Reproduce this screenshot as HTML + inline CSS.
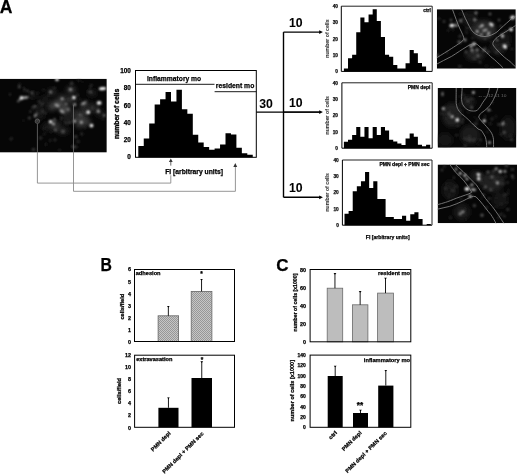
<!DOCTYPE html><html><head><meta charset="utf-8"><style>html,body{margin:0;padding:0;background:#fff;}svg{display:block;}text{font-family:'Liberation Sans', Arial, sans-serif;stroke:#000;stroke-width:0.25px;}</style></head><body>
<svg width="520" height="476" viewBox="0 0 520 476">
<defs>
<filter id="blur2" x="-50%" y="-50%" width="200%" height="200%"><feGaussianBlur stdDeviation="2"/></filter>
<filter id="blur3" x="-50%" y="-50%" width="200%" height="200%"><feGaussianBlur stdDeviation="3"/></filter>
<filter id="blur6" x="-50%" y="-50%" width="200%" height="200%"><feGaussianBlur stdDeviation="6"/></filter>
<filter id="blur1" x="-50%" y="-50%" width="200%" height="200%"><feGaussianBlur stdDeviation="0.95"/></filter>
<filter id="blurT" x="-50%" y="-50%" width="200%" height="200%"><feGaussianBlur stdDeviation="1.1"/></filter>
<pattern id="hatch" width="2" height="2" patternUnits="userSpaceOnUse"><rect width="2" height="2" fill="#c6c6c6"/><rect width="1" height="1" fill="#979797"/><rect x="1" y="1" width="1" height="1" fill="#979797"/></pattern>
<marker id="ah" markerWidth="6" markerHeight="6" refX="5" refY="3" orient="auto" markerUnits="userSpaceOnUse"><path d="M0,0.6 L5.5,3 L0,5.4 Z" fill="#000"/></marker>
<marker id="ahg" markerWidth="5" markerHeight="5" refX="2.5" refY="0.3" orient="0" markerUnits="userSpaceOnUse"><path d="M0,4 L2.5,0 L5,4 Z" fill="#555"/></marker>
</defs>
<text x="-0.30" y="12.60" font-size="17.6" font-weight="bold">A</text>
<clipPath id="c1"><rect x="0" y="78.7" width="106.8" height="73.9"/></clipPath>
<g clip-path="url(#c1)">
<rect x="0.00" y="78.70" width="106.80" height="73.90" fill="#060606"/>
<g filter="url(#blur2)">
<ellipse cx="84" cy="112" rx="4" ry="6" fill="#303030" opacity="0.9"/>
<ellipse cx="80" cy="124" rx="5" ry="4" fill="#383838" opacity="0.9"/>
<ellipse cx="58" cy="104" rx="7" ry="4" fill="#4a4a4a" opacity="0.9"/>
<ellipse cx="65" cy="109" rx="6" ry="3.5" fill="#505050" opacity="0.9"/>
<ellipse cx="52" cy="107" rx="4" ry="4" fill="#3c3c3c" opacity="0.9"/>
<ellipse cx="70" cy="100" rx="5" ry="4" fill="#383838" opacity="0.8"/>
<ellipse cx="80" cy="118" rx="6" ry="4" fill="#404040" opacity="0.9"/>
<ellipse cx="86" cy="122" rx="5" ry="4" fill="#3a3a3a" opacity="0.9"/>
<ellipse cx="76" cy="113" rx="4" ry="4" fill="#303030" opacity="0.8"/>
<ellipse cx="71" cy="90" rx="5" ry="4" fill="#3a3a3a" opacity="0.8"/>
<ellipse cx="62" cy="98" rx="5" ry="4" fill="#303030" opacity="0.8"/>
<ellipse cx="55" cy="126" rx="6" ry="5" fill="#2c2c2c" opacity="0.9"/>
<ellipse cx="63" cy="131" rx="6" ry="4" fill="#262626" opacity="0.9"/>
<ellipse cx="47" cy="127" rx="5" ry="4" fill="#222" opacity="0.8"/>
<ellipse cx="93" cy="108" rx="5" ry="5" fill="#2a2a2a" opacity="0.8"/>
<ellipse cx="100" cy="113" rx="4" ry="4" fill="#222" opacity="0.8"/>
<ellipse cx="84" cy="104" rx="5" ry="3" fill="#333" opacity="0.8"/>
<ellipse cx="52" cy="92" rx="4" ry="4" fill="#2c2c2c" opacity="0.8"/>
<ellipse cx="40" cy="112" rx="6" ry="8" fill="#161616" opacity="0.8"/>
<ellipse cx="33" cy="95" rx="4" ry="4" fill="#1c1c1c" opacity="0.8"/>
<ellipse cx="92" cy="93" rx="5" ry="4" fill="#1e1e1e" opacity="0.8"/>
<ellipse cx="67" cy="118" rx="6" ry="5" fill="#222" opacity="0.8"/>
<ellipse cx="45" cy="100" rx="5" ry="5" fill="#1a1a1a" opacity="0.8"/>
</g>
<g filter="url(#blurT)">
<circle cx="45.6" cy="113.1" r="1.4" fill="#2b2b2b"/>
<circle cx="76.3" cy="100.7" r="1.0" fill="#2d2d2d"/>
<circle cx="50.2" cy="140.5" r="1.2" fill="#2b2b2b"/>
<circle cx="24.8" cy="89.9" r="1.3" fill="#393939"/>
<circle cx="71.7" cy="83.4" r="1.8" fill="#343434"/>
<circle cx="69.2" cy="99.5" r="1.5" fill="#2f2f2f"/>
<circle cx="76.3" cy="146.8" r="1.5" fill="#282828"/>
<circle cx="84.6" cy="115.5" r="1.3" fill="#202020"/>
<circle cx="79.7" cy="99.4" r="1.2" fill="#252525"/>
<circle cx="61.3" cy="118.2" r="1.4" fill="#292929"/>
<circle cx="72.8" cy="147.3" r="1.1" fill="#373737"/>
<circle cx="98.2" cy="108.6" r="1.3" fill="#3a3a3a"/>
<circle cx="63.1" cy="99.9" r="1.8" fill="#363636"/>
<circle cx="86.7" cy="117.1" r="0.9" fill="#2b2b2b"/>
<circle cx="43.8" cy="89.8" r="1.2" fill="#252525"/>
<circle cx="80.9" cy="112.5" r="1.2" fill="#1d1d1d"/>
<circle cx="48.3" cy="95.4" r="1.0" fill="#2c2c2c"/>
<circle cx="79.4" cy="115.6" r="1.7" fill="#1d1d1d"/>
<circle cx="31.1" cy="98.2" r="0.8" fill="#323232"/>
<circle cx="33.5" cy="149.5" r="1.7" fill="#383838"/>
<circle cx="30.4" cy="111.6" r="1.4" fill="#313131"/>
<circle cx="37.1" cy="112.0" r="1.0" fill="#323232"/>
<circle cx="43.8" cy="128.5" r="1.6" fill="#1c1c1c"/>
<circle cx="33.6" cy="106.5" r="1.4" fill="#2e2e2e"/>
<circle cx="86.3" cy="101.5" r="1.2" fill="#393939"/>
<circle cx="78.8" cy="80.3" r="1.8" fill="#1d1d1d"/>
<circle cx="54.9" cy="139.9" r="1.4" fill="#2e2e2e"/>
<circle cx="79.1" cy="125.1" r="1.1" fill="#2f2f2f"/>
<circle cx="11.2" cy="138.8" r="1.5" fill="#2e2e2e"/>
<circle cx="39.5" cy="113.9" r="1.1" fill="#232323"/>
<circle cx="88.8" cy="91.5" r="1.7" fill="#262626"/>
<circle cx="67.4" cy="123.9" r="0.9" fill="#212121"/>
<circle cx="23.3" cy="120.7" r="1.0" fill="#242424"/>
<circle cx="42.2" cy="103.9" r="1.6" fill="#363636"/>
<circle cx="45.9" cy="144.3" r="1.6" fill="#1e1e1e"/>
<circle cx="73.5" cy="122.6" r="1.1" fill="#373737"/>
<circle cx="72.1" cy="146.3" r="1.7" fill="#1d1d1d"/>
<circle cx="42.5" cy="111.2" r="1.8" fill="#2f2f2f"/>
<circle cx="92.3" cy="108.0" r="1.6" fill="#363636"/>
<circle cx="102.9" cy="118.9" r="1.0" fill="#383838"/>
<circle cx="40.5" cy="104.5" r="0.8" fill="#232323"/>
<circle cx="74.1" cy="147.0" r="1.7" fill="#383838"/>
<circle cx="84.8" cy="109.6" r="1.3" fill="#212121"/>
<circle cx="52.8" cy="106.1" r="1.7" fill="#3a3a3a"/>
<circle cx="81.8" cy="133.9" r="1.6" fill="#2b2b2b"/>
<circle cx="85.2" cy="127.4" r="0.9" fill="#363636"/>
<circle cx="69.4" cy="122.3" r="1.7" fill="#363636"/>
<circle cx="39.0" cy="103.8" r="1.0" fill="#242424"/>
<circle cx="33.0" cy="107.6" r="1.6" fill="#343434"/>
<circle cx="82.8" cy="82.1" r="0.9" fill="#1d1d1d"/>
<circle cx="91.3" cy="85.1" r="1.3" fill="#2c2c2c"/>
<circle cx="54.7" cy="121.9" r="1.1" fill="#2e2e2e"/>
<circle cx="50.8" cy="132.0" r="1.5" fill="#1c1c1c"/>
<circle cx="61.8" cy="106.6" r="1.4" fill="#2a2a2a"/>
<circle cx="40.6" cy="137.9" r="1.7" fill="#2f2f2f"/>
<circle cx="77.5" cy="95.3" r="1.8" fill="#292929"/>
<circle cx="65.5" cy="122.9" r="1.4" fill="#323232"/>
<circle cx="24.0" cy="88.3" r="1.7" fill="#1c1c1c"/>
<circle cx="39.0" cy="101.2" r="1.5" fill="#2a2a2a"/>
<circle cx="78.1" cy="141.5" r="1.6" fill="#2c2c2c"/>
<circle cx="85.9" cy="104.0" r="1.4" fill="#353535"/>
<circle cx="82.7" cy="125.9" r="0.9" fill="#2c2c2c"/>
<circle cx="75.8" cy="136.8" r="1.7" fill="#363636"/>
<circle cx="54.5" cy="87.8" r="1.1" fill="#3a3a3a"/>
<circle cx="85.0" cy="112.6" r="1.3" fill="#2c2c2c"/>
<circle cx="37.9" cy="93.3" r="1.4" fill="#1d1d1d"/>
<circle cx="19.3" cy="84.4" r="1.4" fill="#212121"/>
<circle cx="90.2" cy="87.0" r="1.4" fill="#272727"/>
<circle cx="59.4" cy="150.1" r="1.3" fill="#282828"/>
<circle cx="44.1" cy="133.9" r="1.2" fill="#212121"/>
</g><g filter="url(#blur1)">
<circle cx="57" cy="79.6" r="1.75" fill="#ddd"/>
<circle cx="21.5" cy="97.9" r="1.85" fill="#f4f4f4"/>
<ellipse cx="25.5" cy="97.6" rx="3.20" ry="1.25" fill="#aaa" transform="rotate(-5 25.5 97.6)"/>
<ellipse cx="18.8" cy="100.6" rx="2.20" ry="1.05" fill="#666" transform="rotate(-40 18.8 100.6)"/>
<circle cx="19.3" cy="86.9" r="1.35" fill="#555"/>
<circle cx="32" cy="92.8" r="1.35" fill="#555"/>
<circle cx="27.8" cy="91.1" r="1.25" fill="#444"/>
<circle cx="50.5" cy="92" r="1.55" fill="#777"/>
<circle cx="10" cy="94.5" r="1.15" fill="#333"/>
<circle cx="35.3" cy="106.3" r="1.35" fill="#555"/>
<ellipse cx="35.6" cy="115.3" rx="2.40" ry="1.25" fill="#888" transform="rotate(-50 35.6 115.3)"/>
<circle cx="29.4" cy="118" r="1.25" fill="#555"/>
<circle cx="37.4" cy="121.1" r="1.25" fill="#999"/>
<circle cx="50.5" cy="121.8" r="1.75" fill="#eee"/>
<circle cx="53.5" cy="124" r="1.45" fill="#aaa"/>
<ellipse cx="102.5" cy="88.6" rx="3.70" ry="1.65" fill="#f4f4f4" transform="rotate(-5 102.5 88.6)"/>
<circle cx="73.9" cy="97.5" r="1.85" fill="#f0f0f0"/>
<circle cx="70.5" cy="89.5" r="1.65" fill="#888"/>
<circle cx="62.1" cy="98.7" r="1.55" fill="#999"/>
<ellipse cx="99.1" cy="102.9" rx="2.40" ry="1.85" fill="#f0f0f0" transform="rotate(0 99.1 102.9)"/>
<ellipse cx="83.6" cy="103.4" rx="2.70" ry="1.35" fill="#999" transform="rotate(-30 83.6 103.4)"/>
<circle cx="74.7" cy="104.6" r="1.55" fill="#999"/>
<circle cx="88.2" cy="112.2" r="1.85" fill="#eee"/>
<circle cx="98.3" cy="111.3" r="1.55" fill="#aaa"/>
<circle cx="104.1" cy="115.5" r="1.35" fill="#777"/>
<circle cx="74.7" cy="121.1" r="1.55" fill="#aaa"/>
<circle cx="81.4" cy="122.3" r="1.55" fill="#aaa"/>
<circle cx="91.5" cy="125.6" r="1.85" fill="#f0f0f0"/>
<ellipse cx="57" cy="105.4" rx="2.60" ry="1.55" fill="#999" transform="rotate(20 57 105.4)"/>
<ellipse cx="62.1" cy="111.3" rx="2.80" ry="1.55" fill="#999" transform="rotate(30 62.1 111.3)"/>
<circle cx="68" cy="109.6" r="1.35" fill="#777"/>
<circle cx="54.5" cy="119.7" r="1.35" fill="#666"/>
<circle cx="55.4" cy="129.8" r="1.65" fill="#555"/>
<circle cx="63" cy="131.5" r="1.65" fill="#555"/>
<circle cx="90.7" cy="92" r="1.35" fill="#555"/>
<circle cx="66" cy="104" r="1.25" fill="#777"/>
<circle cx="80" cy="115" r="1.45" fill="#666"/>
</g>
</g>
<circle cx="37.4" cy="121.2" r="2.2" fill="none" stroke="#777" stroke-width="0.6"/>
<polyline points="37.4,152.6 37.4,183.1 170.8,183.1 170.8,175.3" fill="none" stroke="#8a8a8a" stroke-width="0.9"/>
<line x1="37.4" y1="123.6" x2="37.4" y2="152.6" stroke="#707070" stroke-width="0.8"/>
<polyline points="73.5,152.6 73.5,191.3 235.4,191.3 235.4,165" fill="none" stroke="#8a8a8a" stroke-width="0.9"/>
<line x1="73.5" y1="104.8" x2="73.5" y2="152.6" stroke="#707070" stroke-width="0.8"/>
<path d="M168.9,161.9 L170.8,158.6 L172.7,161.9 Z" fill="#333"/>
<line x1="170.8" y1="161.5" x2="170.8" y2="165.6" stroke="#555" stroke-width="0.9"/>
<path d="M233.3,166.9 L235.3,163 L237.2,166.9 Z" fill="#333"/>
<path d="M138.30,157.30 L138.30,146.00 L143.75,146.00 L143.75,138.50 L149.20,138.50 L149.20,123.60 L154.65,123.60 L154.65,104.50 L160.10,104.50 L160.10,99.30 L165.55,99.30 L165.55,92.10 L171.00,92.10 L171.00,101.50 L176.45,101.50 L176.45,89.70 L181.90,89.70 L181.90,109.20 L187.35,109.20 L187.35,113.70 L192.80,113.70 L192.80,134.80 L198.25,134.80 L198.25,142.50 L203.70,142.50 L203.70,147.00 L209.15,147.00 L209.15,149.80 L214.60,149.80 L214.60,148.60 L220.05,148.60 L220.05,144.60 L225.50,144.60 L225.50,133.20 L230.95,133.20 L230.95,134.50 L236.40,134.50 L236.40,147.70 L241.85,147.70 L241.85,153.20 L247.30,153.20 L247.30,154.80 L252.75,154.80 L252.75,157.30 Z" fill="#000"/>
<rect x="135.5" y="70.5" width="120.80" height="86.80" fill="none" stroke="#000" stroke-width="1"/>
<line x1="135.50" y1="84.30" x2="214.50" y2="84.30" stroke="#000" stroke-width="0.9"/>
<line x1="214.60" y1="91.70" x2="256.30" y2="91.70" stroke="#000" stroke-width="0.9"/>
<text x="147.00" y="80.90" font-size="7.3" font-weight="bold" textLength="54.20" lengthAdjust="spacingAndGlyphs">inflammatory mo</text>
<text x="215.80" y="88.00" font-size="7.3" font-weight="bold" textLength="38.50" lengthAdjust="spacingAndGlyphs">resident mo</text>
<text x="130.90" y="159.40" font-size="6.4" font-weight="bold" text-anchor="end">0</text>
<text x="130.90" y="142.10" font-size="6.4" font-weight="bold" text-anchor="end">20</text>
<text x="130.90" y="124.80" font-size="6.4" font-weight="bold" text-anchor="end">40</text>
<text x="130.90" y="107.50" font-size="6.4" font-weight="bold" text-anchor="end">60</text>
<text x="130.90" y="90.20" font-size="6.4" font-weight="bold" text-anchor="end">80</text>
<text x="130.90" y="72.90" font-size="6.4" font-weight="bold" text-anchor="end">100</text>
<text x="119.00" y="139.10" font-size="6.9" font-weight="bold" textLength="50.40" lengthAdjust="spacingAndGlyphs" style="stroke-width:0.35px" transform="rotate(-90 119.00 139.10)">number of cells</text>
<text x="165.20" y="173.70" font-size="7.0" font-weight="bold" textLength="57.80" lengthAdjust="spacingAndGlyphs">FI [arbitrary units]</text>
<line x1="256.30" y1="112.10" x2="320.00" y2="112.10" stroke="#000" stroke-width="1.4"/>
<line x1="283.50" y1="32.10" x2="283.50" y2="197.30" stroke="#000" stroke-width="1.4"/>
<line x1="283.50" y1="32.10" x2="320.00" y2="32.10" stroke="#000" stroke-width="1.4"/>
<path d="M319.2,30.20 L322.9,32.10 L319.2,34.00 Z" fill="#000"/>
<line x1="283.50" y1="112.10" x2="320.00" y2="112.10" stroke="#000" stroke-width="1.4"/>
<path d="M319.2,110.20 L322.9,112.10 L319.2,114.00 Z" fill="#000"/>
<line x1="283.50" y1="197.30" x2="320.00" y2="197.30" stroke="#000" stroke-width="1.4"/>
<path d="M319.2,195.40 L322.9,197.30 L319.2,199.20 Z" fill="#000"/>
<text x="259.20" y="107.80" font-size="12.0" font-weight="bold" textLength="13.60" lengthAdjust="spacingAndGlyphs" style="stroke-width:0.05px">30</text>
<text x="289.00" y="26.50" font-size="12.4" font-weight="bold" textLength="13.60" lengthAdjust="spacingAndGlyphs" style="stroke-width:0.05px">10</text>
<text x="289.00" y="107.00" font-size="12.2" font-weight="bold" textLength="13.60" lengthAdjust="spacingAndGlyphs" style="stroke-width:0.05px">10</text>
<text x="289.00" y="191.70" font-size="12.2" font-weight="bold" textLength="13.60" lengthAdjust="spacingAndGlyphs" style="stroke-width:0.05px">10</text>
<path d="M343.90,71.40 L343.90,68.50 L348.01,68.50 L348.01,58.20 L352.12,58.20 L352.12,54.80 L356.23,54.80 L356.23,32.30 L360.34,32.30 L360.34,17.50 L364.45,17.50 L364.45,22.20 L368.56,22.20 L368.56,14.40 L372.67,14.40 L372.67,9.30 L376.78,9.30 L376.78,21.00 L380.89,21.00 L380.89,36.90 L385.00,36.90 L385.00,54.80 L389.11,54.80 L389.11,56.70 L393.22,56.70 L393.22,64.90 L397.33,64.90 L397.33,68.50 L401.44,68.50 L401.44,68.50 L405.55,68.50 L405.55,63.30 L409.66,63.30 L409.66,50.10 L413.77,50.10 L413.77,53.20 L417.88,53.20 L417.88,63.00 L421.99,63.00 L421.99,66.40 L426.10,66.40 L426.10,71.40 L430.21,71.40 L430.21,71.40 Z" fill="#000"/>
<path d="M341.3,6.2 L432.2,6.2 L432.2,71.4" fill="none" stroke="#222" stroke-width="1"/>
<path d="M341.3,6.2 L341.3,71.4 L432.2,71.4" fill="none" stroke="#000" stroke-width="1"/>
<text x="338.00" y="73.20" font-size="4.8" font-weight="bold" text-anchor="end" fill="#111" style="stroke:#111">0</text>
<text x="338.00" y="56.90" font-size="4.8" font-weight="bold" text-anchor="end" fill="#111" style="stroke:#111">10</text>
<text x="338.00" y="40.60" font-size="4.8" font-weight="bold" text-anchor="end" fill="#111" style="stroke:#111">20</text>
<text x="338.00" y="24.30" font-size="4.8" font-weight="bold" text-anchor="end" fill="#111" style="stroke:#111">30</text>
<text x="338.00" y="8.00" font-size="4.8" font-weight="bold" text-anchor="end" fill="#111" style="stroke:#111">40</text>
<text x="329.30" y="57.80" font-size="4.9" font-weight="bold" textLength="38.50" lengthAdjust="spacingAndGlyphs" fill="#333" style="stroke:#333;stroke-width:0.05px" transform="rotate(-90 329.30 57.80)">number of cells</text>
<text x="430.80" y="12.20" font-size="5.1" font-weight="bold" text-anchor="end" textLength="7.60" lengthAdjust="spacingAndGlyphs">ctrl</text>
<path d="M343.90,148.20 L343.90,141.70 L348.01,141.70 L348.01,139.80 L352.12,139.80 L352.12,135.10 L356.23,135.10 L356.23,126.90 L360.34,126.90 L360.34,136.70 L364.45,136.70 L364.45,126.90 L368.56,126.90 L368.56,138.20 L372.67,138.20 L372.67,126.90 L376.78,126.90 L376.78,135.10 L380.89,135.10 L380.89,126.90 L385.00,126.90 L385.00,130.50 L389.11,130.50 L389.11,139.80 L393.22,139.80 L393.22,141.40 L397.33,141.40 L397.33,143.50 L401.44,143.50 L401.44,145.10 L405.55,145.10 L405.55,138.60 L409.66,138.60 L409.66,133.40 L413.77,133.40 L413.77,136.70 L417.88,136.70 L417.88,144.80 L421.99,144.80 L421.99,146.30 L426.10,146.30 L426.10,144.80 L430.21,144.80 L430.21,148.20 Z" fill="#000"/>
<path d="M341.9,82.8 L432.2,82.8 L432.2,148.2" fill="none" stroke="#222" stroke-width="1"/>
<path d="M341.9,82.8 L341.9,148.2 L432.2,148.2" fill="none" stroke="#000" stroke-width="1"/>
<text x="338.00" y="150.00" font-size="4.8" font-weight="bold" text-anchor="end" fill="#111" style="stroke:#111">0</text>
<text x="338.00" y="133.65" font-size="4.8" font-weight="bold" text-anchor="end" fill="#111" style="stroke:#111">10</text>
<text x="338.00" y="117.30" font-size="4.8" font-weight="bold" text-anchor="end" fill="#111" style="stroke:#111">20</text>
<text x="338.00" y="100.95" font-size="4.8" font-weight="bold" text-anchor="end" fill="#111" style="stroke:#111">30</text>
<text x="338.00" y="84.60" font-size="4.8" font-weight="bold" text-anchor="end" fill="#111" style="stroke:#111">40</text>
<text x="329.30" y="134.50" font-size="4.9" font-weight="bold" textLength="38.50" lengthAdjust="spacingAndGlyphs" fill="#333" style="stroke:#333;stroke-width:0.05px" transform="rotate(-90 329.30 134.50)">number of cells</text>
<text x="430.50" y="88.80" font-size="5.0" font-weight="bold" text-anchor="end" textLength="22.80" lengthAdjust="spacingAndGlyphs">PMN depl</text>
<path d="M344.50,225.20 L344.50,213.80 L348.61,213.80 L348.61,211.10 L352.72,211.10 L352.72,191.30 L356.83,191.30 L356.83,186.30 L360.94,186.30 L360.94,181.20 L365.05,181.20 L365.05,171.90 L369.16,171.90 L369.16,187.90 L373.27,187.90 L373.27,181.20 L377.38,181.20 L377.38,199.00 L381.49,199.00 L381.49,199.00 L385.60,199.00 L385.60,216.90 L389.71,216.90 L389.71,216.90 L393.82,216.90 L393.82,218.90 L397.93,218.90 L397.93,218.90 L402.04,218.90 L402.04,215.80 L406.15,215.80 L406.15,220.80 L410.26,220.80 L410.26,214.20 L414.37,214.20 L414.37,212.20 L418.48,212.20 L418.48,218.90 L422.59,218.90 L422.59,225.20 L426.70,225.20 L426.70,223.90 L430.81,223.90 L430.81,225.20 Z" fill="#000"/>
<path d="M342.4,160.0 L432.0,160.0 L432.0,225.2" fill="none" stroke="#222" stroke-width="1"/>
<path d="M342.4,160.0 L342.4,225.2 L432.0,225.2" fill="none" stroke="#000" stroke-width="1"/>
<text x="338.80" y="227.00" font-size="4.8" font-weight="bold" text-anchor="end" fill="#111" style="stroke:#111">0</text>
<text x="338.80" y="210.70" font-size="4.8" font-weight="bold" text-anchor="end" fill="#111" style="stroke:#111">10</text>
<text x="338.80" y="194.40" font-size="4.8" font-weight="bold" text-anchor="end" fill="#111" style="stroke:#111">20</text>
<text x="338.80" y="178.10" font-size="4.8" font-weight="bold" text-anchor="end" fill="#111" style="stroke:#111">30</text>
<text x="338.80" y="161.80" font-size="4.8" font-weight="bold" text-anchor="end" fill="#111" style="stroke:#111">40</text>
<text x="329.30" y="211.60" font-size="4.9" font-weight="bold" textLength="38.50" lengthAdjust="spacingAndGlyphs" fill="#333" style="stroke:#333;stroke-width:0.05px" transform="rotate(-90 329.30 211.60)">number of cells</text>
<text x="429.60" y="166.00" font-size="5.4" font-weight="bold" text-anchor="end" textLength="50.20" lengthAdjust="spacingAndGlyphs">PMN depl + PMN sec</text>
<text x="365.80" y="239.30" font-size="5.4" font-weight="bold" textLength="43.80" lengthAdjust="spacingAndGlyphs">FI [arbitrary units]</text>
<clipPath id="c2"><rect x="436.8" y="9.2" width="79.0" height="59.5"/></clipPath>
<g clip-path="url(#c2)">
<rect x="436.80" y="9.20" width="79.00" height="59.50" fill="#060606"/>
<g filter="url(#blur2)">
<ellipse cx="484" cy="30" rx="12" ry="10" fill="#333" opacity="0.8"/>
<ellipse cx="475" cy="55" rx="10" ry="6" fill="#262626" opacity="0.8"/>
<ellipse cx="498" cy="48" rx="8" ry="7" fill="#1e1e1e" opacity="0.8"/>
<ellipse cx="470" cy="20" rx="8" ry="8" fill="#1c1c1c" opacity="0.7"/>
<ellipse cx="505" cy="40" rx="6" ry="8" fill="#1a1a1a" opacity="0.7"/>
</g>
<g filter="url(#blurT)">
<circle cx="506.0" cy="31.2" r="1.5" fill="#333333"/>
<circle cx="461.0" cy="14.0" r="1.7" fill="#1d1d1d"/>
<circle cx="465.3" cy="14.2" r="1.4" fill="#1f1f1f"/>
<circle cx="474.3" cy="58.4" r="1.6" fill="#373737"/>
<circle cx="496.0" cy="37.6" r="0.9" fill="#202020"/>
<circle cx="437.2" cy="55.2" r="1.8" fill="#3a3a3a"/>
<circle cx="459.7" cy="66.4" r="1.7" fill="#2d2d2d"/>
<circle cx="488.0" cy="52.1" r="1.8" fill="#3a3a3a"/>
<circle cx="484.5" cy="32.2" r="1.1" fill="#202020"/>
<circle cx="476.4" cy="20.0" r="1.1" fill="#1e1e1e"/>
<circle cx="474.8" cy="28.0" r="1.3" fill="#2b2b2b"/>
<circle cx="503.3" cy="44.8" r="1.2" fill="#333333"/>
<circle cx="453.0" cy="27.8" r="1.3" fill="#1c1c1c"/>
<circle cx="486.1" cy="66.0" r="1.6" fill="#1f1f1f"/>
<circle cx="511.2" cy="29.7" r="1.7" fill="#272727"/>
<circle cx="470.3" cy="28.3" r="1.2" fill="#353535"/>
<circle cx="463.3" cy="18.8" r="1.3" fill="#262626"/>
<circle cx="469.5" cy="69.4" r="0.9" fill="#2d2d2d"/>
<circle cx="503.1" cy="47.2" r="1.5" fill="#202020"/>
<circle cx="461.3" cy="22.1" r="1.3" fill="#2f2f2f"/>
<circle cx="477.6" cy="49.6" r="1.3" fill="#242424"/>
<circle cx="500.7" cy="26.3" r="1.3" fill="#353535"/>
<circle cx="447.1" cy="52.7" r="0.9" fill="#3a3a3a"/>
<circle cx="469.5" cy="19.2" r="0.9" fill="#272727"/>
<circle cx="460.1" cy="36.2" r="1.7" fill="#2f2f2f"/>
<circle cx="472.6" cy="38.2" r="1.1" fill="#333333"/>
<circle cx="456.3" cy="22.6" r="1.6" fill="#282828"/>
<circle cx="472.3" cy="50.1" r="1.0" fill="#262626"/>
<circle cx="511.9" cy="49.1" r="1.5" fill="#272727"/>
<circle cx="495.9" cy="52.1" r="1.6" fill="#242424"/>
<circle cx="507.3" cy="43.5" r="1.4" fill="#212121"/>
<circle cx="499.8" cy="49.3" r="1.6" fill="#252525"/>
<circle cx="497.0" cy="52.0" r="1.7" fill="#333333"/>
<circle cx="485.3" cy="48.2" r="1.8" fill="#272727"/>
<circle cx="480.1" cy="62.3" r="1.3" fill="#373737"/>
<circle cx="466.6" cy="32.3" r="1.3" fill="#2e2e2e"/>
<circle cx="460.7" cy="42.1" r="1.4" fill="#373737"/>
<circle cx="439.0" cy="18.7" r="1.4" fill="#2a2a2a"/>
<circle cx="476.6" cy="54.5" r="1.8" fill="#2b2b2b"/>
<circle cx="492.1" cy="67.8" r="1.0" fill="#2b2b2b"/>
<circle cx="453.0" cy="29.5" r="1.4" fill="#1e1e1e"/>
<circle cx="508.1" cy="45.0" r="1.7" fill="#242424"/>
<circle cx="491.2" cy="41.8" r="0.8" fill="#3a3a3a"/>
<circle cx="485.0" cy="38.4" r="1.4" fill="#3a3a3a"/>
<circle cx="501.5" cy="34.1" r="1.4" fill="#363636"/>
<circle cx="466.8" cy="28.4" r="1.3" fill="#2e2e2e"/>
<circle cx="472.9" cy="51.9" r="1.5" fill="#383838"/>
<circle cx="494.4" cy="41.7" r="1.1" fill="#202020"/>
<circle cx="481.4" cy="34.7" r="1.3" fill="#232323"/>
<circle cx="448.3" cy="30.5" r="1.4" fill="#212121"/>
<circle cx="495.8" cy="45.1" r="1.7" fill="#262626"/>
<circle cx="502.8" cy="46.0" r="1.4" fill="#313131"/>
<circle cx="505.1" cy="45.8" r="0.8" fill="#282828"/>
<circle cx="502.3" cy="51.8" r="1.0" fill="#1d1d1d"/>
<circle cx="477.0" cy="50.3" r="1.4" fill="#2b2b2b"/>
</g><g filter="url(#blur1)">
<circle cx="474.7" cy="19.8" r="1.35" fill="#bbb"/>
<circle cx="482.2" cy="25.6" r="1.45" fill="#ccc"/>
<circle cx="490.5" cy="24" r="1.45" fill="#ddd"/>
<circle cx="477.2" cy="31.4" r="1.45" fill="#bbb"/>
<circle cx="483.8" cy="30.6" r="1.35" fill="#aaa"/>
<circle cx="488.8" cy="33.1" r="1.35" fill="#bbb"/>
<circle cx="481.3" cy="34.7" r="1.35" fill="#999"/>
<circle cx="474" cy="44" r="1.65" fill="#e8e8e8"/>
<circle cx="460.6" cy="20.6" r="1.25" fill="#888"/>
<circle cx="505.3" cy="47.2" r="1.65" fill="#eee"/>
<circle cx="472" cy="50" r="1.55" fill="#888"/>
<circle cx="484" cy="50" r="1.55" fill="#777"/>
<ellipse cx="451.8" cy="25.5" rx="2.40" ry="1.75" fill="#f0f0f0" transform="rotate(-10 451.8 25.5)"/>
<ellipse cx="456" cy="25.5" rx="2.20" ry="1.05" fill="#aaa" transform="rotate(0 456 25.5)"/>
<circle cx="451" cy="20" r="1.25" fill="#555"/>
<circle cx="444" cy="21.5" r="1.25" fill="#444"/>
<circle cx="460.5" cy="20.6" r="1.45" fill="#777"/>
<circle cx="465" cy="40" r="1.45" fill="#999"/>
<circle cx="459" cy="42" r="1.45" fill="#666"/>
<circle cx="475" cy="20" r="1.45" fill="#777"/>
<circle cx="492" cy="25" r="1.65" fill="#ddd"/>
<circle cx="486" cy="30" r="1.45" fill="#999"/>
<circle cx="480" cy="27" r="1.35" fill="#888"/>
<circle cx="488" cy="35" r="1.35" fill="#888"/>
<circle cx="476" cy="13" r="1.45" fill="#888"/>
<circle cx="490" cy="14" r="1.35" fill="#666"/>
<ellipse cx="512.5" cy="17.5" rx="2.40" ry="1.75" fill="#eee" transform="rotate(-20 512.5 17.5)"/>
<circle cx="511" cy="29.4" r="1.75" fill="#eee"/>
<circle cx="502.5" cy="36" r="1.65" fill="#ccc"/>
<circle cx="504.6" cy="46" r="1.75" fill="#eee"/>
<circle cx="497" cy="40" r="1.35" fill="#777"/>
<circle cx="477" cy="50" r="1.45" fill="#777"/>
<circle cx="471" cy="46" r="1.55" fill="#bbb"/>
<circle cx="478" cy="56" r="1.45" fill="#666"/>
<circle cx="466" cy="52" r="1.35" fill="#555"/>
<circle cx="499" cy="20" r="1.25" fill="#555"/>
</g>
<path d="M452.3,9 C455,16 457.5,23.7 460,29 C462,33 464,37 464,39.3 C462,42 456,45.5 451.7,48.4 C447,51.5 442,54.5 436,58.2" fill="none" stroke="#858585" stroke-width="0.85"/>
<path d="M461.4,9 C463.5,14 465,18 466.7,21 C468.5,25 470.6,28.9 472.5,31.5 C476,35 480,36.5 485,36.5 C490,36 493,34.5 497,32 C501,28 506,23.7 509,21 C512,18 514,17 517,16.2" fill="none" stroke="#858585" stroke-width="0.85"/>
<path d="M517,24.5 C512,28 506,31.5 502,34.1 C499,36 496,38 495,39.5 C493.5,41 492.3,43 493,45 C495,48 499,52 502,55 C505,58 508,60 510,61.5 C512,63.5 514,65.5 517,68" fill="none" stroke="#858585" stroke-width="0.85"/>
<path d="M436,64.5 C441,62 446,59 451.7,56.3 C457,53 462,49.5 466,47.1 C469,45 472,43.9 475,43.5 C477,44 478,45 479,46 C482,48.5 484,50.5 486.4,52.3 C489,55 492,58 494.3,59.5 C497,62 499,64 500.8,65.4 C502,67 503,68 503.6,69" fill="none" stroke="#858585" stroke-width="0.85"/>
</g>
<clipPath id="c3"><rect x="437.6" y="87.9" width="78.8" height="59.8"/></clipPath>
<g clip-path="url(#c3)">
<rect x="437.60" y="87.90" width="78.80" height="59.80" fill="#060606"/>
<g filter="url(#blur2)">
<ellipse cx="452" cy="115" rx="10" ry="12" fill="#262626" opacity="0.85"/>
<ellipse cx="470" cy="135" rx="10" ry="10" fill="#202020" opacity="0.8"/>
<ellipse cx="468" cy="102" rx="7" ry="7" fill="#222" opacity="0.7"/>
<ellipse cx="445" cy="140" rx="8" ry="7" fill="#1a1a1a" opacity="0.8"/>
<ellipse cx="508" cy="128" rx="8" ry="12" fill="#181818" opacity="0.8"/>
</g>
<g filter="url(#blurT)">
<circle cx="468.0" cy="139.5" r="1.3" fill="#363636"/>
<circle cx="456.7" cy="115.0" r="1.2" fill="#1e1e1e"/>
<circle cx="449.3" cy="117.1" r="0.9" fill="#2e2e2e"/>
<circle cx="444.9" cy="114.3" r="0.8" fill="#232323"/>
<circle cx="460.4" cy="96.5" r="1.4" fill="#1f1f1f"/>
<circle cx="478.3" cy="144.3" r="1.2" fill="#222222"/>
<circle cx="441.8" cy="113.6" r="1.5" fill="#2b2b2b"/>
<circle cx="487.3" cy="131.9" r="1.1" fill="#272727"/>
<circle cx="492.7" cy="102.5" r="1.1" fill="#2e2e2e"/>
<circle cx="504.2" cy="121.5" r="0.9" fill="#1e1e1e"/>
<circle cx="510.4" cy="135.6" r="1.8" fill="#1d1d1d"/>
<circle cx="501.0" cy="134.3" r="1.4" fill="#2b2b2b"/>
<circle cx="460.5" cy="114.9" r="0.9" fill="#313131"/>
<circle cx="462.0" cy="122.5" r="1.6" fill="#313131"/>
<circle cx="471.5" cy="99.0" r="1.3" fill="#3a3a3a"/>
<circle cx="446.4" cy="118.2" r="0.9" fill="#252525"/>
<circle cx="473.1" cy="99.1" r="1.2" fill="#212121"/>
<circle cx="476.7" cy="123.5" r="1.5" fill="#242424"/>
<circle cx="491.4" cy="110.7" r="1.0" fill="#232323"/>
<circle cx="469.3" cy="137.0" r="1.4" fill="#363636"/>
<circle cx="458.0" cy="125.8" r="1.4" fill="#2f2f2f"/>
<circle cx="492.0" cy="118.7" r="1.5" fill="#2f2f2f"/>
<circle cx="473.6" cy="140.0" r="1.7" fill="#3a3a3a"/>
<circle cx="468.5" cy="111.8" r="1.3" fill="#1f1f1f"/>
<circle cx="475.0" cy="140.2" r="0.9" fill="#212121"/>
<circle cx="456.6" cy="118.0" r="1.7" fill="#1f1f1f"/>
<circle cx="459.8" cy="110.2" r="1.4" fill="#202020"/>
<circle cx="485.1" cy="116.3" r="1.6" fill="#1f1f1f"/>
<circle cx="474.3" cy="116.8" r="0.9" fill="#1e1e1e"/>
<circle cx="495.9" cy="116.5" r="1.0" fill="#323232"/>
<circle cx="511.1" cy="136.0" r="1.6" fill="#1c1c1c"/>
<circle cx="449.9" cy="112.1" r="1.7" fill="#272727"/>
<circle cx="456.4" cy="135.2" r="1.4" fill="#262626"/>
<circle cx="475.1" cy="124.1" r="1.6" fill="#333333"/>
<circle cx="467.3" cy="103.0" r="1.6" fill="#1c1c1c"/>
<circle cx="462.9" cy="119.3" r="1.6" fill="#2a2a2a"/>
<circle cx="465.1" cy="146.2" r="1.0" fill="#1e1e1e"/>
<circle cx="465.2" cy="145.8" r="1.4" fill="#383838"/>
<circle cx="506.0" cy="124.8" r="0.9" fill="#313131"/>
<circle cx="465.0" cy="138.7" r="1.4" fill="#353535"/>
<circle cx="460.0" cy="103.9" r="1.5" fill="#1e1e1e"/>
<circle cx="480.5" cy="139.8" r="1.6" fill="#2a2a2a"/>
<circle cx="465.4" cy="98.1" r="1.3" fill="#2d2d2d"/>
<circle cx="433.6" cy="114.9" r="1.8" fill="#292929"/>
<circle cx="475.4" cy="139.0" r="1.0" fill="#2c2c2c"/>
<circle cx="490.4" cy="123.8" r="1.7" fill="#1d1d1d"/>
<circle cx="463.2" cy="94.2" r="1.2" fill="#2c2c2c"/>
<circle cx="477.1" cy="119.7" r="1.3" fill="#2c2c2c"/>
<circle cx="498.8" cy="124.3" r="1.6" fill="#343434"/>
<circle cx="466.1" cy="100.3" r="1.1" fill="#1d1d1d"/>
</g><g filter="url(#blur1)">
<ellipse cx="442.5" cy="94" rx="2.20" ry="1.15" fill="#777" transform="rotate(90 442.5 94)"/>
<circle cx="473.4" cy="92.5" r="1.35" fill="#ddd"/>
<circle cx="443.4" cy="108.6" r="1.65" fill="#aaa"/>
<circle cx="452.2" cy="116.7" r="1.65" fill="#aaa"/>
<circle cx="457.3" cy="119.9" r="1.85" fill="#eee"/>
<circle cx="471.7" cy="107.5" r="1.45" fill="#555"/>
<circle cx="488.8" cy="110" r="1.35" fill="#aaa"/>
<circle cx="484.3" cy="120.7" r="1.55" fill="#eee"/>
<ellipse cx="502.9" cy="123.7" rx="2.20" ry="1.45" fill="#888" transform="rotate(-60 502.9 123.7)"/>
<circle cx="504.3" cy="132.4" r="1.45" fill="#555"/>
<circle cx="489.5" cy="142.5" r="1.55" fill="#999"/>
<circle cx="511.7" cy="139.8" r="1.35" fill="#444"/>
<circle cx="449" cy="114" r="1.45" fill="#555"/>
<circle cx="470" cy="140" r="1.65" fill="#3a3a3a"/>
<circle cx="468" cy="101" r="1.45" fill="#444"/>
</g>
<path d="M456.2,87 C456.2,95 456,100 456.2,103.5 C456.8,106 457,108 458.2,109.6 C459.5,112 461,113.5 462.9,114.9 C465,116.5 466.5,118 468.3,119.6 C470.5,121.5 472,123.5 473.7,125 C475.5,126.5 477,127.5 478,129 C479.5,129.5 480.5,130 481.4,130.4 C483,133 484.5,135 485.4,137.1 C486.3,140 486.6,144 486.8,149" fill="none" stroke="#858585" stroke-width="0.85"/>
<path d="M462.2,87 C462,92 461.5,96 461.6,99.5 C461.8,102 462.2,103.5 462.9,104.8 C464,106.5 465,107.8 466.3,108.9 C468,110 469.5,110.7 471,110.9 C473,111.1 474.5,111.1 476,110.9 C478,110 480,107.5 481.4,104.8 C483.5,101 485.5,99 486.8,96.8 C488,94 489,91 489.5,87" fill="none" stroke="#858585" stroke-width="0.85"/>
<path d="M498.2,87 C496.5,93 495,96 493.5,99.5 C492,102.5 490,105.5 488.1,107.5 C486,109.5 483.5,111.5 481.4,112.9 C480,114 479,115.5 478.7,117 C479.5,119 481,120.5 482.7,122.3 C485,125 488,128 490.8,131.8 C492.5,134.5 493.3,137 493.5,139.8 C493.6,143 493.6,146 493.5,149" fill="none" stroke="#858585" stroke-width="0.85"/>
</g>
<text x="478.5" y="97.4" font-size="3.4" fill="#6a6a6a" textLength="28" lengthAdjust="spacingAndGlyphs" style="stroke:none">-- --     12  11  10</text>
<clipPath id="c4"><rect x="437.6" y="164.4" width="79.4" height="58.8"/></clipPath>
<g clip-path="url(#c4)">
<rect x="437.60" y="164.40" width="79.40" height="58.80" fill="#060606"/>
<g filter="url(#blur2)">
<ellipse cx="492" cy="182" rx="12" ry="10" fill="#282828" opacity="0.8"/>
<ellipse cx="462" cy="212" rx="8" ry="8" fill="#222" opacity="0.8"/>
<ellipse cx="450" cy="190" rx="8" ry="10" fill="#1c1c1c" opacity="0.8"/>
<ellipse cx="500" cy="200" rx="8" ry="8" fill="#1a1a1a" opacity="0.8"/>
<ellipse cx="476" cy="176" rx="6" ry="6" fill="#222" opacity="0.7"/>
</g>
<g filter="url(#blurT)">
<circle cx="449.5" cy="194.5" r="0.8" fill="#313131"/>
<circle cx="481.4" cy="198.2" r="0.8" fill="#323232"/>
<circle cx="507.0" cy="202.8" r="1.0" fill="#212121"/>
<circle cx="493.3" cy="171.2" r="1.7" fill="#333333"/>
<circle cx="453.9" cy="177.6" r="1.2" fill="#353535"/>
<circle cx="456.0" cy="186.3" r="1.6" fill="#262626"/>
<circle cx="494.2" cy="177.9" r="1.6" fill="#282828"/>
<circle cx="450.4" cy="217.9" r="1.8" fill="#1f1f1f"/>
<circle cx="465.2" cy="209.5" r="1.7" fill="#1c1c1c"/>
<circle cx="480.3" cy="179.9" r="1.7" fill="#2d2d2d"/>
<circle cx="504.2" cy="216.1" r="1.4" fill="#323232"/>
<circle cx="502.8" cy="183.8" r="1.7" fill="#2f2f2f"/>
<circle cx="496.1" cy="198.2" r="0.9" fill="#1d1d1d"/>
<circle cx="513.1" cy="178.3" r="1.3" fill="#2f2f2f"/>
<circle cx="504.7" cy="195.1" r="1.6" fill="#2e2e2e"/>
<circle cx="461.1" cy="199.2" r="1.3" fill="#272727"/>
<circle cx="483.1" cy="188.5" r="1.2" fill="#1c1c1c"/>
<circle cx="498.4" cy="217.8" r="1.4" fill="#252525"/>
<circle cx="507.5" cy="182.5" r="1.2" fill="#353535"/>
<circle cx="460.0" cy="211.1" r="1.0" fill="#303030"/>
<circle cx="469.4" cy="186.3" r="1.4" fill="#373737"/>
<circle cx="456.4" cy="201.9" r="0.8" fill="#242424"/>
<circle cx="501.9" cy="179.9" r="1.8" fill="#212121"/>
<circle cx="501.4" cy="183.0" r="1.2" fill="#353535"/>
<circle cx="448.3" cy="197.8" r="0.9" fill="#242424"/>
<circle cx="449.1" cy="187.6" r="0.9" fill="#2a2a2a"/>
<circle cx="489.3" cy="198.4" r="1.5" fill="#313131"/>
<circle cx="507.5" cy="193.5" r="1.7" fill="#1f1f1f"/>
<circle cx="465.9" cy="219.5" r="1.0" fill="#1e1e1e"/>
<circle cx="505.8" cy="176.3" r="1.3" fill="#2b2b2b"/>
<circle cx="507.7" cy="209.4" r="1.7" fill="#2e2e2e"/>
<circle cx="481.6" cy="174.2" r="1.3" fill="#292929"/>
<circle cx="500.4" cy="171.8" r="1.1" fill="#3a3a3a"/>
<circle cx="494.8" cy="170.5" r="1.3" fill="#323232"/>
<circle cx="491.1" cy="178.0" r="1.7" fill="#232323"/>
<circle cx="501.3" cy="203.7" r="0.9" fill="#2f2f2f"/>
<circle cx="497.8" cy="206.5" r="0.8" fill="#222222"/>
<circle cx="444.3" cy="166.2" r="1.3" fill="#2f2f2f"/>
<circle cx="491.0" cy="176.6" r="1.6" fill="#1e1e1e"/>
<circle cx="483.8" cy="194.7" r="1.6" fill="#2b2b2b"/>
<circle cx="446.4" cy="183.2" r="1.0" fill="#202020"/>
<circle cx="495.4" cy="181.2" r="1.8" fill="#303030"/>
<circle cx="481.3" cy="182.2" r="1.7" fill="#272727"/>
<circle cx="491.6" cy="190.9" r="0.8" fill="#222222"/>
<circle cx="502.6" cy="177.3" r="0.9" fill="#292929"/>
<circle cx="446.1" cy="187.0" r="1.5" fill="#1d1d1d"/>
<circle cx="499.6" cy="156.7" r="1.8" fill="#353535"/>
<circle cx="506.4" cy="165.8" r="1.7" fill="#3a3a3a"/>
<circle cx="500.2" cy="214.5" r="1.4" fill="#2b2b2b"/>
<circle cx="508.5" cy="189.7" r="1.1" fill="#1e1e1e"/>
<circle cx="495.8" cy="206.7" r="0.9" fill="#282828"/>
<circle cx="445.6" cy="188.8" r="1.2" fill="#323232"/>
<circle cx="512.5" cy="169.5" r="1.8" fill="#2a2a2a"/>
<circle cx="502.1" cy="213.5" r="0.9" fill="#262626"/>
<circle cx="486.2" cy="207.6" r="1.6" fill="#262626"/>
</g><g filter="url(#blur1)">
<ellipse cx="467" cy="188.9" rx="2.40" ry="1.85" fill="#f4f4f4" transform="rotate(0 467 188.9)"/>
<circle cx="470.3" cy="196.3" r="1.55" fill="#ccc"/>
<circle cx="460.2" cy="173.4" r="1.45" fill="#ccc"/>
<circle cx="464.9" cy="175.5" r="1.45" fill="#ccc"/>
<circle cx="472.3" cy="189.6" r="1.45" fill="#bbb"/>
<circle cx="467" cy="179" r="1.35" fill="#bbb"/>
<circle cx="472" cy="184.8" r="1.35" fill="#bbb"/>
<circle cx="474.5" cy="189.8" r="1.35" fill="#ccc"/>
<circle cx="456" cy="169.5" r="1.25" fill="#999"/>
<circle cx="477.8" cy="174" r="1.35" fill="#aaa"/>
<circle cx="474.4" cy="205.7" r="1.35" fill="#555"/>
<circle cx="462.9" cy="211.8" r="1.55" fill="#999"/>
<circle cx="460.2" cy="213.8" r="1.55" fill="#888"/>
<circle cx="452.8" cy="190.3" r="1.85" fill="#333"/>
<circle cx="478.7" cy="174.8" r="1.75" fill="#ddd"/>
<circle cx="478.7" cy="178.8" r="1.75" fill="#e8e8e8"/>
<circle cx="496.2" cy="168.7" r="1.45" fill="#999"/>
<circle cx="500.2" cy="171.4" r="1.65" fill="#ccc"/>
<circle cx="504.9" cy="171.4" r="1.45" fill="#999"/>
<circle cx="497.5" cy="182.9" r="1.55" fill="#aaa"/>
<circle cx="485.4" cy="186.9" r="1.35" fill="#666"/>
<circle cx="482" cy="215.2" r="1.45" fill="#666"/>
<circle cx="512.3" cy="176.1" r="1.35" fill="#555"/>
<circle cx="490.8" cy="189.6" r="1.75" fill="#444"/>
<circle cx="492" cy="177" r="1.35" fill="#777"/>
<circle cx="488" cy="172" r="1.35" fill="#666"/>
<circle cx="456" cy="168" r="1.25" fill="#555"/>
<circle cx="442" cy="170" r="1.25" fill="#444"/>
</g>
<path d="M449.5,164 C452,167.5 454,170.5 456.2,172.8 C458.5,175.5 461,177.5 462.9,179.5 C465.5,182.5 467.5,185.5 469.6,188.9 C470.5,190.5 471.5,191.5 471.7,192.3 C470,193.5 468,194.3 465.6,195 C462,196.2 459,197.2 456.2,198.3 C452,200 448.5,201.5 445.4,202.4 C443,203.2 440,204 437,204.8" fill="none" stroke="#858585" stroke-width="0.85"/>
<path d="M454.8,164 C457.5,166.5 460,169 462.9,171.4 C466,174.5 468.5,177 471,179.5 C473,181.5 475,183.5 476.4,184.9 C477.5,186.5 479,188.5 480,190.3 C482,193.5 484,196 485.4,198.3 C488,201.5 490,204 492.2,206.4 C494.5,209.5 497,213 498.9,215.8 C500.5,218.5 502.5,221 504.3,224" fill="none" stroke="#858585" stroke-width="0.85"/>
<path d="M437,209.3 C441,208.3 445,207.5 449.5,206.4 C454,205 458.5,203 462.9,201 C465.5,199.8 467.5,198.5 469.6,197.7 C471,197 472.5,196.5 473.7,196.3 C474.5,196.5 475.3,196.6 476,196.8 C477.5,198.5 479,200 480,201 C482,203.5 484,206 485.4,207.8 C487,210 489,212.5 490.8,214.5 C492.5,217 494.5,220 496.2,224" fill="none" stroke="#858585" stroke-width="0.85"/>
</g>
<text x="100.40" y="270.70" font-size="17.6" font-weight="bold" textLength="11.40" lengthAdjust="spacingAndGlyphs">B</text>
<rect x="158.1" y="315.8" width="20.50" height="25.70" fill="url(#hatch)" stroke="#666" stroke-width="0.8"/>
<line x1="168.35" y1="306.20" x2="168.35" y2="315.80" stroke="#000" stroke-width="0.9"/>
<path d="M166.95,305.90 L169.75,305.90 L168.35,307.50 Z" fill="#000"/>
<rect x="191.2" y="291.4" width="20.70" height="50.10" fill="url(#hatch)" stroke="#666" stroke-width="0.8"/>
<line x1="201.55" y1="279.30" x2="201.55" y2="291.40" stroke="#000" stroke-width="0.9"/>
<path d="M200.15,279.00 L202.95,279.00 L201.55,280.60 Z" fill="#000"/>
<rect x="134.5" y="269.5" width="100.00" height="72.00" fill="none" stroke="#000" stroke-width="1"/>
<text x="130.90" y="343.95" font-size="5.4" font-weight="bold" text-anchor="end">0</text>
<text x="130.90" y="331.87" font-size="5.4" font-weight="bold" text-anchor="end">1</text>
<text x="130.90" y="319.78" font-size="5.4" font-weight="bold" text-anchor="end">2</text>
<text x="130.90" y="307.70" font-size="5.4" font-weight="bold" text-anchor="end">3</text>
<text x="130.90" y="295.62" font-size="5.4" font-weight="bold" text-anchor="end">4</text>
<text x="130.90" y="283.53" font-size="5.4" font-weight="bold" text-anchor="end">5</text>
<text x="130.90" y="271.45" font-size="5.4" font-weight="bold" text-anchor="end">6</text>
<text x="135.70" y="275.30" font-size="5.4" font-weight="bold" textLength="24.90" lengthAdjust="spacingAndGlyphs">adhesion</text>
<text x="201.60" y="276.40" font-size="6.5" font-weight="bold" text-anchor="middle">*</text>
<text x="123.60" y="319.60" font-size="4.8" font-weight="bold" textLength="25.80" lengthAdjust="spacingAndGlyphs" transform="rotate(-90 123.60 319.60)">cells/field</text>
<rect x="158.40" y="407.80" width="20.10" height="19.50" fill="#000"/>
<line x1="168.45" y1="397.70" x2="168.45" y2="407.80" stroke="#000" stroke-width="0.9"/>
<path d="M167.05,397.40 L169.85,397.40 L168.45,399.00 Z" fill="#000"/>
<rect x="191.50" y="378.00" width="20.50" height="49.30" fill="#000"/>
<line x1="201.75" y1="361.60" x2="201.75" y2="378.00" stroke="#000" stroke-width="0.9"/>
<path d="M200.35,361.30 L203.15,361.30 L201.75,362.90 Z" fill="#000"/>
<rect x="134.6" y="355.2" width="99.90" height="72.10" fill="none" stroke="#000" stroke-width="1"/>
<text x="130.90" y="429.55" font-size="5.4" font-weight="bold" text-anchor="end">0</text>
<text x="130.90" y="417.45" font-size="5.4" font-weight="bold" text-anchor="end">2</text>
<text x="130.90" y="405.35" font-size="5.4" font-weight="bold" text-anchor="end">4</text>
<text x="130.90" y="393.25" font-size="5.4" font-weight="bold" text-anchor="end">6</text>
<text x="130.90" y="381.15" font-size="5.4" font-weight="bold" text-anchor="end">8</text>
<text x="130.90" y="369.05" font-size="5.4" font-weight="bold" text-anchor="end">10</text>
<text x="130.90" y="356.95" font-size="5.4" font-weight="bold" text-anchor="end">12</text>
<text x="136.20" y="361.30" font-size="5.0" font-weight="bold" textLength="36.20" lengthAdjust="spacingAndGlyphs">extravasation</text>
<text x="202.10" y="361.80" font-size="6.5" font-weight="bold" text-anchor="middle">*</text>
<text x="121.00" y="404.00" font-size="5.1" font-weight="bold" textLength="26.10" lengthAdjust="spacingAndGlyphs" transform="rotate(-90 121.00 404.00)">cells/field</text>
<text x="171.10" y="433.60" font-size="5.4" font-weight="bold" text-anchor="end" textLength="25.50" lengthAdjust="spacingAndGlyphs" transform="rotate(-45 171.10 433.60)">PMN depl</text>
<text x="204.00" y="434.10" font-size="5.4" font-weight="bold" text-anchor="end" textLength="56.00" lengthAdjust="spacingAndGlyphs" transform="rotate(-45 204.00 434.10)">PMN depl + PMN sec</text>
<text x="276.30" y="270.90" font-size="17.0" font-weight="bold">C</text>
<rect x="327.2" y="288.2" width="15.50" height="53.60" fill="#bdbdbd" stroke="#6a6a6a" stroke-width="0.8"/>
<line x1="334.95" y1="273.40" x2="334.95" y2="288.20" stroke="#000" stroke-width="0.9"/>
<path d="M333.55,273.10 L336.35,273.10 L334.95,274.70 Z" fill="#000"/>
<rect x="352.4" y="304.8" width="15.50" height="37.00" fill="#bdbdbd" stroke="#6a6a6a" stroke-width="0.8"/>
<line x1="360.15" y1="291.40" x2="360.15" y2="304.80" stroke="#000" stroke-width="0.9"/>
<path d="M358.75,291.10 L361.55,291.10 L360.15,292.70 Z" fill="#000"/>
<rect x="377.6" y="293.1" width="15.80" height="48.70" fill="#bdbdbd" stroke="#6a6a6a" stroke-width="0.8"/>
<line x1="385.50" y1="278.10" x2="385.50" y2="293.10" stroke="#000" stroke-width="0.9"/>
<path d="M384.10,277.80 L386.90,277.80 L385.50,279.40 Z" fill="#000"/>
<rect x="310.1" y="269.5" width="100.70" height="72.30" fill="none" stroke="#000" stroke-width="1"/>
<text x="305.90" y="343.75" font-size="5.4" font-weight="bold" text-anchor="end">0</text>
<text x="305.90" y="325.70" font-size="5.4" font-weight="bold" text-anchor="end">20</text>
<text x="305.90" y="307.65" font-size="5.4" font-weight="bold" text-anchor="end">40</text>
<text x="305.90" y="289.60" font-size="5.4" font-weight="bold" text-anchor="end">60</text>
<text x="305.90" y="271.55" font-size="5.4" font-weight="bold" text-anchor="end">80</text>
<text x="410.00" y="275.30" font-size="5.4" font-weight="bold" text-anchor="end" textLength="32.00" lengthAdjust="spacingAndGlyphs">resident mo</text>
<rect x="327.70" y="376.00" width="15.00" height="51.30" fill="#000"/>
<line x1="335.20" y1="366.00" x2="335.20" y2="376.00" stroke="#000" stroke-width="0.9"/>
<path d="M333.80,365.70 L336.60,365.70 L335.20,367.30 Z" fill="#000"/>
<rect x="353.00" y="413.00" width="15.00" height="14.30" fill="#000"/>
<line x1="360.50" y1="410.10" x2="360.50" y2="413.00" stroke="#000" stroke-width="0.9"/>
<path d="M359.10,409.80 L361.90,409.80 L360.50,411.40 Z" fill="#000"/>
<rect x="378.20" y="385.60" width="15.20" height="41.70" fill="#000"/>
<line x1="385.80" y1="370.30" x2="385.80" y2="385.60" stroke="#000" stroke-width="0.9"/>
<path d="M384.40,370.00 L387.20,370.00 L385.80,371.60 Z" fill="#000"/>
<rect x="310.1" y="355.1" width="100.70" height="72.20" fill="none" stroke="#000" stroke-width="1"/>
<text x="305.90" y="429.35" font-size="5.0" font-weight="bold" text-anchor="end">0</text>
<text x="305.90" y="419.02" font-size="5.0" font-weight="bold" text-anchor="end">20</text>
<text x="305.90" y="408.69" font-size="5.0" font-weight="bold" text-anchor="end">40</text>
<text x="305.90" y="398.36" font-size="5.0" font-weight="bold" text-anchor="end">60</text>
<text x="305.90" y="388.04" font-size="5.0" font-weight="bold" text-anchor="end">80</text>
<text x="305.90" y="377.71" font-size="5.0" font-weight="bold" text-anchor="end">100</text>
<text x="305.90" y="367.38" font-size="5.0" font-weight="bold" text-anchor="end">120</text>
<text x="305.90" y="357.05" font-size="5.0" font-weight="bold" text-anchor="end">140</text>
<text x="410.00" y="361.80" font-size="5.5" font-weight="bold" text-anchor="end" textLength="46.20" lengthAdjust="spacingAndGlyphs">inflammatory mo</text>
<text x="359.90" y="407.60" font-size="8.2" font-weight="bold" text-anchor="middle">**</text>
<text x="297.00" y="331.40" font-size="5.6" font-weight="bold" textLength="57.80" lengthAdjust="spacingAndGlyphs" transform="rotate(-90 297.00 331.40)">number of cells [x1000]</text>
<text x="293.70" y="421.40" font-size="6.1" font-weight="bold" textLength="61.40" lengthAdjust="spacingAndGlyphs" transform="rotate(-90 293.70 421.40)">number of cells [x1000]</text>
<text x="337.50" y="433.00" font-size="5.4" font-weight="bold" text-anchor="end" textLength="9.50" lengthAdjust="spacingAndGlyphs" transform="rotate(-45 337.50 433.00)">ctrl</text>
<text x="362.00" y="433.20" font-size="5.4" font-weight="bold" text-anchor="end" textLength="25.50" lengthAdjust="spacingAndGlyphs" transform="rotate(-45 362.00 433.20)">PMN depl</text>
<text x="387.20" y="433.60" font-size="5.4" font-weight="bold" text-anchor="end" textLength="56.00" lengthAdjust="spacingAndGlyphs" transform="rotate(-45 387.20 433.60)">PMN depl + PMN sec</text>
</svg></body></html>
